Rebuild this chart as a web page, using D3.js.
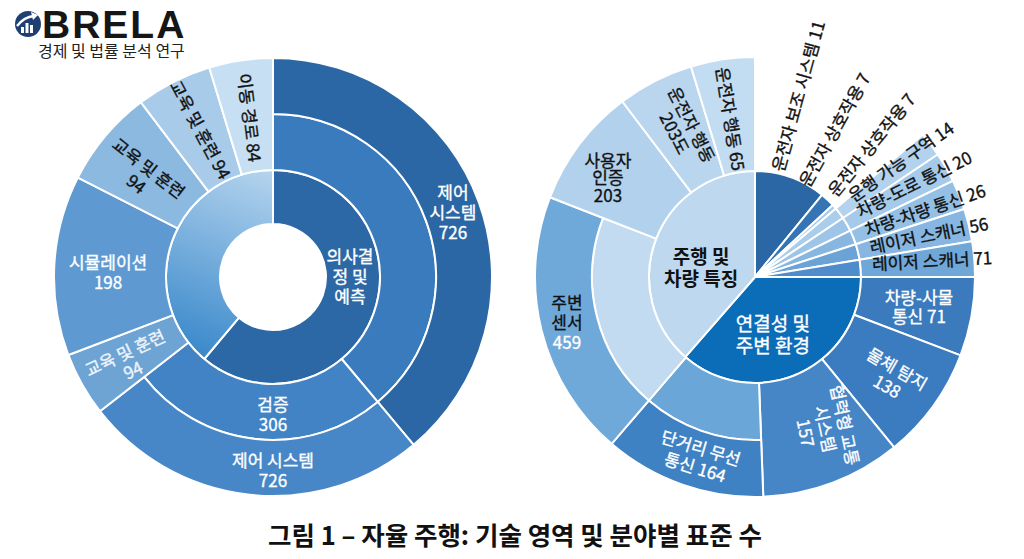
<!DOCTYPE html>
<html>
<head>
<meta charset="utf-8">
<script src="https://cdn.jsdelivr.net/npm/d3@7"></script>
<style>
  body { margin: 0; background: #fff; }
  svg { display: block; font-family: "Noto Sans CJK KR", "Noto Sans", sans-serif; }
</style>
</head>
<body>
<svg id="chart" width="1024" height="559"></svg>
<script>
// ---------- data ----------
// share = angular share of the circle (%)
// band  = [first ring, last ring] the segment covers (0 = innermost)

// left: 의사결정 및 예측
var leftName  = ["의사결\n정 및\n예측", "", "", "검증", "제어\n시스템", "제어 시스템",
                 "교육 및 훈련", "시뮬레이션", "교육 및 훈련", "교육 및 훈련", "이동 경로"];
var leftValue = [null, null, null, 306, 726, 726, 94, 198, 94, 94, 84];
var leftShare = [61.1, 38.9, 38.9, 25.6, 38.9, 25.6, 4.7, 13.3, 7.2, 5.6, 4.7];
var leftBand  = [[0,0], [0,0], [1,1], [1,1], [2,2], [2,2], [1,2], [1,2], [1,2], [1,2], [1,2]];

// right: 주행 및 차량 특징 / 연결성 및 주변 환경
var rightName  = ["운전자 보조 시스템", "운전자 상호작용", "운전자 상호작용", "", "", "", "", "",
                  "연결성 및\n주변 환경", "주행 및\n차량 특징",
                  "", "운행 가능 구역", "차량-도로 통신", "차량-차량 통신", "레이저 스캐너", "레이저 스캐너",
                  "차량-사물\n통신", "물체 탐지", "협력형 교통\n시스템", "", "단거리 무선\n통신",
                  "", "주변\n센서", "사용자\n인증", "운전자 행동", "운전자 행동"];
var rightValue = [11, 7, 7, null, null, null, null, null, null, null,
                  null, 14, 20, 26, 56, 71, 71, 138, 157, null, 164, null, 459, 203, 203, 65];
var rightShare = [10.9, 2.2, 0.7, 1.8, 2.2, 2.2, 2.4, 2.6, 36.4, 38.6,
                  13.8, 1.8, 2.2, 2.2, 2.4, 2.6, 5.8, 8.3, 10.3, 11.9, 11.9, 19.6, 19.6, 8.8, 5.6, 4.7];
var rightBand  = [[0,0], [0,0], [0,0], [0,0], [0,0], [0,0], [0,0], [0,0], [0,0], [0,0],
                  [1,2], [1,2], [1,2], [1,2], [1,2], [1,2], [1,2], [1,2], [1,2], [1,1], [2,2],
                  [1,1], [2,2], [1,2], [1,2], [1,2]];

var captionText = "그림 1 – 자율 주행: 기술 영역 및 분야별 표준 수";

// ---------- styles / layout ----------
var leftFill = ["#2c68a5", "url(#leftGrad)", "#3a7bbd", "#4183c4", "#2b67a4", "#4787c8",
                "#6ea4d4", "#5e9ad1", "#8cb9e0", "#a8cbe9", "#c6dff2"];
var rightFill = ["#2b67a4", "#3675b5", "#a5c9e8", "#abcdec", "#9ec5e7", "#87b6e0", "#6ba3d7", "#4e8ccc",
                 "#0b6cb8", "#bdd8ef",
                 null, "#b2d2ee", "#a6cae9", "#95c0e5", "#86b6e1", "#6fa7d9",
                 "#3a7abd", "#3b7bbf", "#4686c7", "#6aa6d7", "#3f82c4",
                 "#c3dbf0", "#6fa9d9", "#b1d1ec", "#b9d6ee", "#c2dcf1"];

var W = "#ffffff", K = "#111111";
// label placement: a = angle (deg, clockwise from top), r = radius, rot = text rotation
var leftLabels = {
  0:  {a: 90,    r: 77,  rot: 0,   color: W, lh: 20},
  3:  {a: 180,   r: 138, rot: 0,   color: W, lh: 20, sep: "\n"},
  4:  {a: 70.4,  r: 191, rot: 0,   color: W, lh: 20, sep: "\n"},
  5:  {a: 180,   r: 194, rot: 0,   color: W, lh: 20, sep: "\n"},
  6:  {a: 239.5, r: 167, rot: -25, color: "#eef5fb", lh: 19, sep: "\n"},
  7:  {a: 271.4, r: 165, rot: 0,   color: W, lh: 20, sep: "\n"},
  8:  {a: 307.6, r: 165, rot: 38,  color: K, lh: 20, sep: "\n"},
  9:  {a: 333.6, r: 164, rot: 62,  color: K, lh: 20, sep: " "},
  10: {a: 351.5, r: 161, rot: 83,  color: K, lh: 20, sep: " "}
};
var rightLabels = {
  0:  {a: 12.2, r: 108.5, rot: -74.5, color: K, anchor: "start", sep: " "},
  1:  {a: 28,   r: 104,   rot: -60.7, color: K, anchor: "start", sep: " "},
  2:  {a: 42.8, r: 113,   rot: -50.8, color: K, anchor: "start", sep: " "},
  8:  {a: 162.8, r: 60.7, rot: 0, color: W, lh: 22, size: 19},
  9:  {a: 279.5, r: 54.7, rot: 0, color: K, lh: 22, size: 19, weight: "bold"},
  11: {a: 50.3, r: 124,   rot: -35.2, color: K, anchor: "start", sep: " "},
  12: {a: 58,   r: 121.3, rot: -26.6, color: K, anchor: "start", sep: " "},
  13: {a: 67.2, r: 119.8, rot: -18.7, color: K, anchor: "start", sep: " "},
  14: {a: 75.7, r: 118.7, rot: -11.6, color: K, anchor: "start", sep: " "},
  15: {a: 83.9, r: 117.7, rot: -3.2,  color: K, anchor: "start", sep: " "},
  16: {a: 100.4, r: 166.7, rot: 0,  color: W, lh: 19, sep: " "},
  17: {a: 126.4, r: 170.2, rot: 30, color: W, lh: 20, sep: "\n"},
  18: {a: 155.3, r: 167.3, rot: 78, color: W, lh: 20, sep: "\n"},
  20: {a: 197.5, r: 189.8, rot: 17, color: W, lh: 20, sep: " "},
  22: {a: 256.3, r: 193.5, rot: 0,  color: K, lh: 20, sep: "\n", valueColor: W},
  23: {a: 303.9, r: 177.2, rot: 0,  color: K, lh: 17.5, sep: "\n"},
  24: {a: 334,   r: 164.6, rot: 63, color: K, lh: 19, sep: "\n", tail: "도"},
  25: {a: 351,   r: 160,   rot: 81, color: K, lh: 20, sep: " "}
};

var svg = d3.select("#chart");
var angle = d3.scaleLinear().domain([0, 100]).range([0, 2 * Math.PI]);

var defs = svg.append("defs");
var lg = defs.append("linearGradient").attr("id", "leftGrad")
    .attr("gradientUnits", "userSpaceOnUse")
    .attr("x1", 10).attr("y1", -107).attr("x2", -70).attr("y2", 80);
lg.append("stop").attr("offset", 0).attr("stop-color", "#b8d6ef");
lg.append("stop").attr("offset", 1).attr("stop-color", "#3a89cb");

// stack each segment after the previous ones on the rings it covers
function place(share, band) {
  var cursor = [0, 0, 0];
  return share.map(function(s, i) {
    var b = band[i], start = cursor[b[0]];
    for (var k = b[0]; k <= b[1]; k++) cursor[k] = start + s;
    return {start: start, end: start + s, b: b, i: i};
  });
}

function polar(a, r) {
  var t = a * Math.PI / 180;
  return [r * Math.sin(t), -r * Math.cos(t)];
}

function drawSunburst(o) {
  var g = svg.append("g").attr("transform", "translate(" + o.cx + "," + o.cy + ")");
  var segs = place(o.share, o.band).filter(function(d) { return o.fill[d.i]; });

  var arc = d3.arc()
      .innerRadius(function(d) { return o.edges[d.b[0]]; })
      .outerRadius(function(d) { return o.edges[d.b[1] + 1]; })
      .startAngle(function(d) { return angle(d.start); })
      .endAngle(function(d) { return angle(d.end); });

  g.selectAll("path.seg")
    .data(segs)
    .enter().append("path")
      .attr("class", "seg")
      .attr("d", arc)
      .attr("fill", function(d) { return o.fill[d.i]; })
      .attr("stroke", "#fff")
      .attr("stroke-width", 2)
      .attr("stroke-linejoin", "round");

  Object.keys(o.labels).forEach(function(key) {
    var i = +key, L = o.labels[key];
    var size = L.size || 17, lh = L.lh || 20;
    var lines = o.name[i].split("\n").map(function(s) { return {text: s, color: L.color}; });
    if (o.value[i] != null) {
      var v = String(o.value[i]) + (L.tail || "");
      if (L.sep === "\n") lines.push({text: v, color: L.valueColor || L.color});
      else lines[lines.length - 1].text += " " + v;
    }
    var p = polar(L.a, L.r);
    var t = g.append("text")
        .attr("transform", "translate(" + p[0] + "," + p[1] + ") rotate(" + L.rot + ")")
        .attr("text-anchor", L.anchor || "middle")
        .attr("font-size", size)
        .attr("font-weight", L.weight || "normal");
    lines.forEach(function(line, k) {
      t.append("tspan")
        .attr("x", 0)
        .attr("y", (k - (lines.length - 1) / 2) * lh + 0.36 * size)
        .attr("fill", line.color)
        .attr("stroke", line.color)
        .attr("stroke-width", L.weight ? 0 : 0.35)
        .text(line.text);
    });
  });
}

drawSunburst({cx: 273, cy: 277, edges: [53, 107, 163, 219],
  name: leftName, value: leftValue, share: leftShare, band: leftBand, fill: leftFill, labels: leftLabels});

drawSunburst({cx: 755, cy: 277, edges: [0, 106, 163, 220],
  name: rightName, value: rightValue, share: rightShare, band: rightBand, fill: rightFill, labels: rightLabels});

// ---------- logo ----------
var logo = svg.append("g");
logo.append("circle").attr("cx", 28).attr("cy", 24).attr("r", 13).attr("fill", "#1f3f72");
[[21, 27], [25.5, 23], [30, 25]].forEach(function(b) {
  logo.append("rect").attr("x", b[0]).attr("y", b[1]).attr("width", 3).attr("height", 33 - b[1])
    .attr("fill", "#fff");
});
logo.append("path").attr("d", "M17,26 Q24,17 34,16").attr("fill", "none").attr("stroke", "#fff").attr("stroke-width", 2.4);
logo.append("path").attr("d", "M31,12 L38,15 L33,20 Z").attr("fill", "#fff");
logo.append("text").attr("x", 42).attr("y", 38)
  .attr("font-family", "'Liberation Sans', Arial, sans-serif").attr("font-weight", "bold")
  .attr("font-size", 39).attr("letter-spacing", 2).attr("fill", "#161616").text("BRELA");
logo.append("text").attr("x", 38).attr("y", 57)
  .attr("font-size", 16).attr("fill", "#222").text("경제 및 법률 분석 연구");

// ---------- caption ----------
svg.append("text").attr("x", 515).attr("y", 545)
  .attr("text-anchor", "middle").attr("font-size", 25.5).attr("font-weight", "bold")
  .attr("fill", "#111").text(captionText);
</script>
</body>
</html>
